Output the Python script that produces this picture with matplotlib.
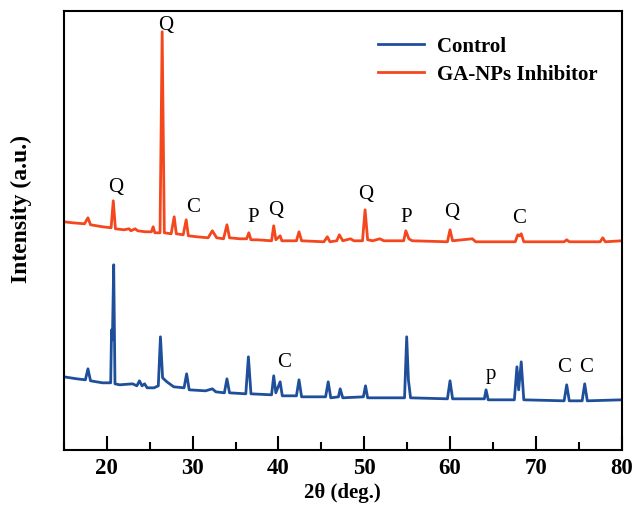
import matplotlib.pyplot as plt
from matplotlib.ticker import MultipleLocator

# XRD patterns, 2-theta (deg) vs intensity (a.u.), traced point by point
inhib_2theta = [15.0, 16.0, 17.4, 17.8, 18.1, 19.5, 20.5, 20.75, 21.0, 22.0, 22.6, 22.8, 23.3, 23.6,
                24.5, 25.2, 25.4, 25.6, 26.2, 26.45, 26.7, 27.5, 27.85, 28.1, 28.9, 29.25, 29.5,
                30.5, 31.8, 32.3, 32.8, 33.6, 34.0, 34.3, 35.5, 36.3, 36.55, 36.8, 37.5, 39.2,
                39.45, 39.7, 40.2, 40.4, 42.1, 42.4, 42.7, 45.3, 45.7, 46.0, 46.8, 47.1, 47.5,
                48.4, 48.8, 49.8, 50.1, 50.4, 51.0, 51.8, 52.3, 54.6, 54.85, 55.2, 55.6, 59.7,
                60.0, 60.3, 62.6, 63.0, 67.6, 67.9, 68.1, 68.3, 68.6, 73.3, 73.6, 73.9, 77.5,
                77.8, 78.1, 80.0]
inhib_int = [228, 227, 226, 232, 225, 223, 222, 249, 221, 220, 221, 219, 221, 219,
             218, 218, 223, 217, 217, 418, 217, 216, 233, 216, 215, 230, 214,
             213, 212, 219, 212, 211, 225, 212, 211, 211, 217, 210, 210, 209,
             224, 210, 214, 209, 209, 218, 209, 208, 213, 208, 209, 215, 209,
             211, 209, 209, 240, 210, 209, 211, 209, 209, 219, 211, 209, 208,
             220, 209, 211, 208, 208, 215, 214, 216, 208, 208, 210, 208, 208,
             212, 208, 209]

control_2theta = [15.0, 16.5, 17.5, 17.8, 18.1, 19.5, 20.3, 20.45, 20.55, 20.65, 20.8, 20.95, 21.5,
                  23.0, 23.5, 23.8, 24.1, 24.4, 24.7, 25.5, 26.0, 26.25, 26.5, 27.0, 27.8, 29.0,
                  29.3, 29.6, 31.5, 32.3, 32.7, 33.7, 34.0, 34.3, 36.2, 36.5, 36.8, 39.2, 39.45,
                  39.7, 40.2, 40.45, 42.1, 42.4, 42.7, 45.5, 45.8, 46.1, 47.0, 47.2, 47.5, 49.9,
                  50.15, 50.4, 52.0, 54.7, 54.95, 55.15, 55.4, 59.7, 60.0, 60.3, 62.5, 64.0, 64.2,
                  64.45, 67.5, 67.8, 68.0, 68.3, 68.6, 73.3, 73.6, 73.9, 75.4, 75.7, 76.0, 80.0]
control_int = [73, 71, 70, 81, 69, 67, 67, 67, 120, 110, 185, 66, 65,
               66, 64, 69, 64, 66, 62, 62, 64, 113, 72, 68, 63, 62,
               76, 60, 59, 61, 58, 57, 71, 57, 56, 93, 56, 55, 74,
               57, 68, 54, 54, 70, 53, 53, 68, 52, 53, 61, 52, 53,
               64, 52, 52, 52, 113, 70, 52, 51, 69, 51, 51, 51, 60,
               50, 50, 83, 60, 88, 50, 49, 65, 49, 49, 66, 49, 50]

# phase labels: Q quartz, C calcite, P portlandite
inhib_labels = ['Q', 'Q', 'C', 'P', 'Q', 'Q', 'P', 'Q', 'C']
inhib_label_x = [21.0, 26.9, 30.0, 37.1, 39.7, 50.2, 54.9, 60.2, 68.0]
inhib_label_y = [263, 425, 243, 233, 240, 256, 233, 238, 232]
control_labels = ['C', 'p', 'C', 'C']
control_label_x = [40.6, 64.8, 73.3, 75.8]
control_label_y = [88, 76, 83, 83]

plt.rcParams['font.family'] = ['Liberation Serif', 'DejaVu Serif']
plt.rcParams['font.weight'] = 'bold'

fig = plt.figure(figsize=(6.33, 5.10), dpi=100)
ax = fig.add_axes([0.101, 0.116, 0.881, 0.861])

ax.plot(control_2theta, control_int, color='#1f4f9a', lw=2.0, label='Control',
        solid_joinstyle='round')
ax.plot(inhib_2theta, inhib_int, color='#f4471e', lw=2.0, label='GA-NPs Inhibitor',
        solid_joinstyle='round')

for t, x, y in zip(inhib_labels, inhib_label_x, inhib_label_y):
    ax.text(x, y, t, ha='center', va='center', fontsize=15, fontweight='normal')
for t, x, y in zip(control_labels, control_label_x, control_label_y):
    ax.text(x, y, t, ha='center', va='center', fontsize=15, fontweight='normal')

ax.set_xlim(15, 80)
ax.set_ylim(0, 439)
ax.xaxis.set_major_locator(MultipleLocator(10))
ax.xaxis.set_minor_locator(MultipleLocator(5))
ax.tick_params(axis='x', which='major', direction='in', length=10, width=1.5, labelsize=16.5, pad=5)
ax.tick_params(axis='x', which='minor', direction='in', length=6, width=1.5)
ax.set_yticks([])
for s in ax.spines.values():
    s.set_linewidth(1.5)

ax.set_xlabel('2θ (deg.)', fontsize=15, fontweight='bold', labelpad=3)
ax.set_ylabel('Intensity (a.u.)', fontsize=17, fontweight='bold')
ax.yaxis.set_label_coords(-0.058, 0.55)

ax.legend(loc='upper right', bbox_to_anchor=(0.99, 0.985), frameon=False, fontsize=15,
          handlelength=2.2, handletextpad=0.6, labelspacing=0.4)

plt.savefig('out.png', dpi=100)
